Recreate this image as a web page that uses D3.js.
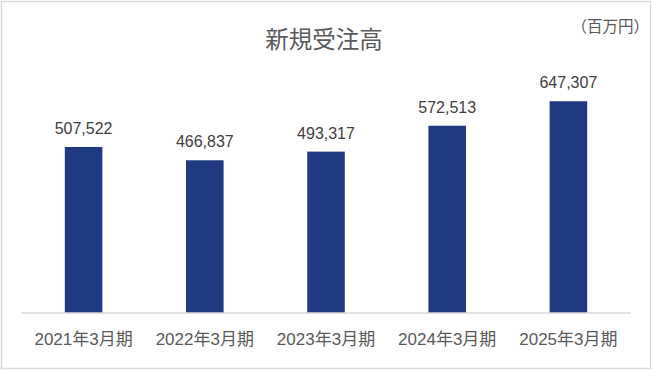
<!DOCTYPE html>
<html>
<head>
<meta charset="utf-8">
<script src="https://cdn.jsdelivr.net/npm/d3@7"></script>
<style>
  body { margin: 0; background: #fff; }
  text { font-family: "Liberation Sans", Arial, "Noto Sans CJK JP", sans-serif; }
</style>
</head>
<body>
<svg width="652" height="370"></svg>
<script>
// data
var categories = ["2021年3月期", "2022年3月期", "2023年3月期", "2024年3月期", "2025年3月期"];
var values = [507522, 466837, 493317, 572513, 647307];

var svg = d3.select("svg"),
  width = +svg.attr("width"),
  height = +svg.attr("height");

var margin = { top: 84, right: 23, bottom: 57, left: 23 };
var baseY = height - margin.bottom;

// chart border
svg.append("rect")
  .attr("x", 1.5).attr("y", 1.5)
  .attr("width", width - 3).attr("height", height - 3)
  .attr("fill", "#fff")
  .attr("stroke", "#d9d9d9")
  .attr("stroke-width", 1.5);

var data = categories.map((c, i) => ({ cat: c, val: values[i] }));

const xScale = d3.scaleBand()
  .domain(categories)
  .range([margin.left, width - margin.right])
  .paddingInner(0.69)
  .paddingOuter(0.345);

const yScale = d3.scaleLinear()
  .domain([0, 700000])
  .range([baseY, margin.top]);

// title
svg.append("text")
  .attr("x", 324)
  .attr("y", 48)
  .attr("text-anchor", "middle")
  .attr("font-size", "23.5px")
  .attr("fill", "#595959")
  .style("font-family", "'Noto Sans CJK JP', sans-serif")
  .text("新規受注高");

// unit
svg.append("text")
  .attr("x", 649)
  .attr("y", 32)
  .attr("text-anchor", "end")
  .attr("font-size", "15.5px")
  .attr("fill", "#595959")
  .style("font-family", "'Noto Sans CJK JP', sans-serif")
  .text("（百万円）");

// bars
svg.append("g").selectAll("rect")
  .data(data)
  .enter()
  .append("rect")
  .attr("x", d => xScale(d.cat))
  .attr("y", d => yScale(d.val))
  .attr("width", xScale.bandwidth())
  .attr("height", d => baseY - yScale(d.val))
  .attr("fill", "#1f3a80");

// value labels
svg.append("g").selectAll("text")
  .data(data)
  .enter()
  .append("text")
  .attr("x", d => xScale(d.cat) + xScale.bandwidth() / 2)
  .attr("y", d => yScale(d.val) - 13)
  .attr("text-anchor", "middle")
  .attr("font-size", "16px")
  .attr("fill", "#404040")
  .text(d => d3.format(",")(d.val));

// x axis
var xAxis = svg.append("g")
  .attr("transform", "translate(0," + baseY + ")")
  .call(d3.axisBottom(xScale).tickSize(0).tickPadding(20));
xAxis.select(".domain")
  .attr("stroke", "#d9d9d9")
  .attr("stroke-width", 1.5)
  .attr("d", "M" + (margin.left - 2) + ",0H" + (width - margin.right + 2));
xAxis.selectAll("text")
  .attr("font-size", "17px")
  .attr("fill", "#595959")
  .style("font-family", "'Liberation Sans', Arial, 'Noto Sans CJK JP', sans-serif");
</script>
</body>
</html>
